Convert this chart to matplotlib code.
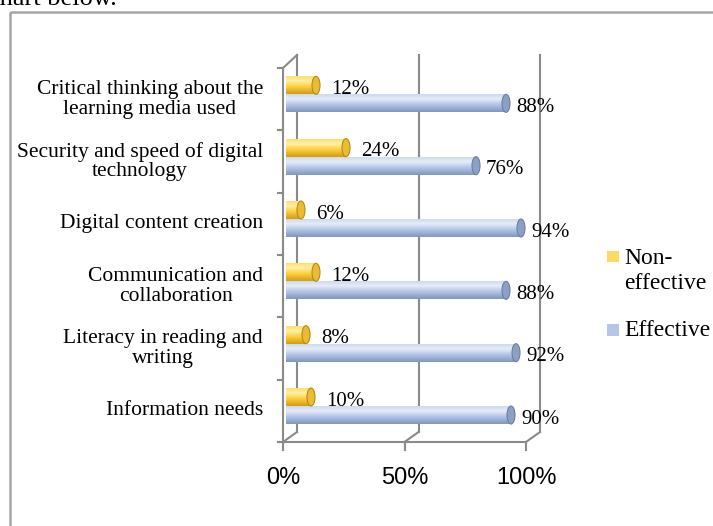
import numpy as np
import matplotlib
matplotlib.use("Agg")
import matplotlib.pyplot as plt
from matplotlib.colors import LinearSegmentedColormap
from matplotlib.patches import Ellipse, Rectangle

# data (bottom -> top)
categories = ["Information needs",
              "Literacy in reading and\nwriting",
              "Communication and\ncollaboration",
              "Digital content creation",
              "Security and speed of digital\ntechnology",
              "Critical thinking about the\nlearning media used"]
effective = [90, 92, 88, 94, 76, 88]
non_effective = [10, 8, 12, 6, 24, 12]
ticks = [0, 50, 100]
tick_labels = ["0%", "50%", "100%"]

SERIF = "Liberation Serif"
SANS = "Liberation Sans"
GRID = "#8a8a8a"

W, H = 713, 526
fig = plt.figure(figsize=(W / 100, H / 100), dpi=100)

# overlay in pixel coords for the 3d frame / page elements
ov = fig.add_axes([0, 0, 1, 1], zorder=0)
ov.set_xlim(0, W); ov.set_ylim(H, 0); ov.axis("off")

# main axes: x in percent, y in category units
ax = fig.add_axes([270 / W, 1 - 455 / H, 290 / W, 405 / H], zorder=1)
ax.patch.set_visible(False)
XL, YL = (-6.4, 109.6), (-0.786, 5.711)

# page text cut at the top + chart border
ov.text(-12, 5, "chart below.", family=SERIF, fontsize=19, va="baseline")
ov.add_patch(Rectangle((10, 12), 800, 600, fill=False, ec="#a6a6a6", lw=1.8))

# 3d walls / gridlines
front = lambda v: 283 + v * 2.43
back = lambda v: 297 + v * 2.43
lw = 1.5
for v in ticks:
    ov.plot([back(v), back(v)], [55, 432], color=GRID, lw=lw)
    ov.plot([front(v), back(v)], [442, 432], color=GRID, lw=lw)
    ov.plot([front(v), front(v)], [442, 450], color=GRID, lw=lw)
ov.plot([front(0), front(100)], [442, 442], color=GRID, lw=lw)
ov.plot([283, 283], [68, 442], color=GRID, lw=lw)
ov.plot([283, 297], [68, 55], color=GRID, lw=lw)
for k in range(len(categories) + 1):
    yy = 68 + k * (442 - 68) / len(categories)
    ov.plot([278, 283], [yy, yy], color=GRID, lw=lw)
for v, t in zip(ticks, tick_labels):
    ov.text(front(v), 478, t, family=SANS, fontsize=17, ha="center", va="center")

# cylinder-like bars
blue_cm = LinearSegmentedColormap.from_list(
    "b", [(0, "#c9d6ee"), (0.3, "#e6edf8"), (0.6, "#b4c6e7"), (1, "#8197c0")])
yel_cm = LinearSegmentedColormap.from_list(
    "y", [(0, "#ffdc5e"), (0.3, "#fff0a8"), (0.6, "#ffd040"), (1, "#d29c14")])
grad = np.linspace(0, 1, 64).reshape(-1, 1)
h = 0.289
y = np.arange(len(categories))


def cyl(ys, vals, cmap, cap, edge):
    bars = ax.barh(ys, vals, height=h, color="none", edgecolor="none")
    for b, v, yc in zip(bars, vals, ys):
        im = ax.imshow(grad, cmap=cmap, aspect="auto",
                       extent=(0, v, yc - h / 2, yc + h / 2), origin="upper")
        im.set_clip_path(b)
        ax.add_patch(Ellipse((v, yc), 3.2, h, fc=cap, ec=edge, lw=0.8))


cyl(y - h / 2, effective, blue_cm, "#8c9fc4", "#6d7fa3")
cyl(y + h / 2, non_effective, yel_cm, "#eabb35", "#b88a12")

for yc, v in zip(y - h / 2, effective):
    ax.text(v + 4, yc - 0.065, f"{v}%", family=SERIF, fontsize=15,
            ha="left", va="center")
for yc, v in zip(y + h / 2, non_effective):
    ax.text(v + 6, yc - 0.065, f"{v}%", family=SERIF, fontsize=15,
            ha="left", va="center")
for yc, c in zip(y, categories):
    ax.text(-9.2, yc - 0.08, c, family=SERIF, fontsize=15.5, ha="right",
            va="center", linespacing=1.05, multialignment="center")

ax.set_xlim(*XL); ax.set_ylim(*YL)
ax.axis("off")

# legend
ov.add_patch(Rectangle((607, 251), 12, 11, fc="#ffd966", ec="none"))
ov.add_patch(Rectangle((607, 324), 12, 12, fc="#b4c7e7", ec="none"))
ov.text(624, 271, "Non-\neffective", family=SERIF, fontsize=17,
        ha="left", va="center", linespacing=1.2)
ov.text(624, 330, "Effective", family=SERIF, fontsize=17, ha="left", va="center")

fig.savefig("out.png", dpi=100)
